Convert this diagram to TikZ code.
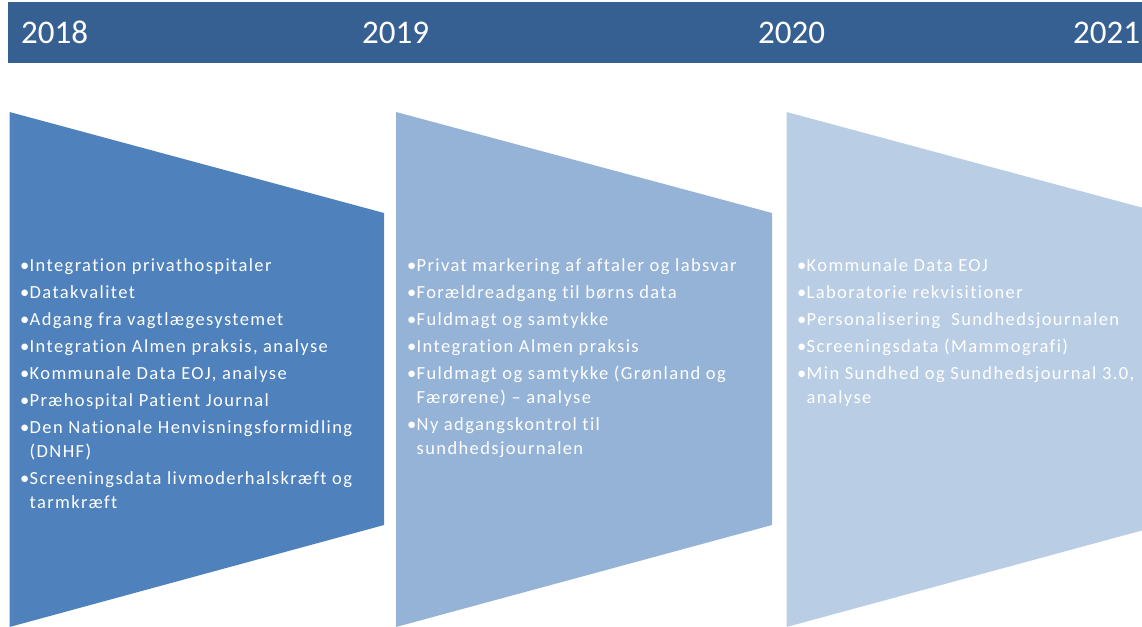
\documentclass[tikz,border=0pt]{standalone}
\usepackage{fontspec}
\setmainfont{Carlito}
\newfontfamily\itemfont[LetterSpace=7.5,Ligatures={NoCommon}]{Carlito}
\definecolor{hdr}{RGB}{55,96,146}
\definecolor{cA}{RGB}{79,129,189}
\definecolor{cB}{RGB}{149,179,215}
\definecolor{cC}{RGB}{185,205,229}
\newcommand\itm{\makebox[9.5pt][l]{\textbullet}}
\newcommand\ind{\hspace*{9.5pt}}
\begin{document}
\begin{tikzpicture}[x=1pt,y=-1pt,
  year/.style={text=white,font=\fontsize{33}{40}\selectfont,anchor=base west,inner sep=0pt},
  items/.style={text=white,font=\itemfont\fontsize{18.5}{24}\selectfont,anchor=base west,inner sep=0pt,align=left}]
\clip (0,0) rectangle (1142,626);
\fill[white] (0,0) rectangle (1142,626);
\fill[hdr] (8,2) rectangle (1150,63);
\node[year] (y18) at (21,44) {2018};
\node[year] (y19) at (362,44) {2019};
\node[year] (y20) at (758,44) {2020};
\node[year] (y21) at (1073,44) {2021};
\fill[cA] (9.5,112) -- (384,213) -- (384,525) -- (9.5,627) -- cycle;
\fill[cB] (396,112) -- (772,213) -- (772,525) -- (396,627) -- cycle;
\fill[cC] (786.5,112) -- (1162,213) -- (1162,525) -- (786.5,627) -- cycle;
% anchor = baseline of the last line
\node[items] (t1) at (20,508) {\itm Integration privathospitaler\\[3pt]
\itm Datakvalitet\\[3pt]
\itm Adgang fra vagtlægesystemet\\[3pt]
\itm Integration Almen praksis, analyse\\[3pt]
\itm Kommunale Data EOJ, analyse\\[3pt]
\itm Præhospital Patient Journal\\[3pt]
\itm Den Nationale Henvisningsformidling\\
\ind (DNHF)\\[3pt]
\itm Screeningsdata livmoderhalskræft og\\
\ind tarmkræft};
\node[items] (t2) at (407,454) {\itm Privat markering af aftaler og labsvar\\[3pt]
\itm Forældreadgang til børns data\\[3pt]
\itm Fuldmagt og samtykke\\[3pt]
\itm Integration Almen praksis\\[3pt]
\itm Fuldmagt og samtykke (Grønland og\\
\ind Færørene) – analyse\\[3pt]
\itm Ny adgangskontrol til\\
\ind sundhedsjournalen};
\node[items] (t3) at (797,403) {\itm Kommunale Data EOJ\\[3pt]
\itm Laboratorie rekvisitioner\\[3pt]
\itm Personalisering\ \ Sundhedsjournalen\\[3pt]
\itm Screeningsdata (Mammografi)\\[3pt]
\itm Min Sundhed og Sundhedsjournal 3.0,\\
\ind analyse};
\end{tikzpicture}
\end{document}
